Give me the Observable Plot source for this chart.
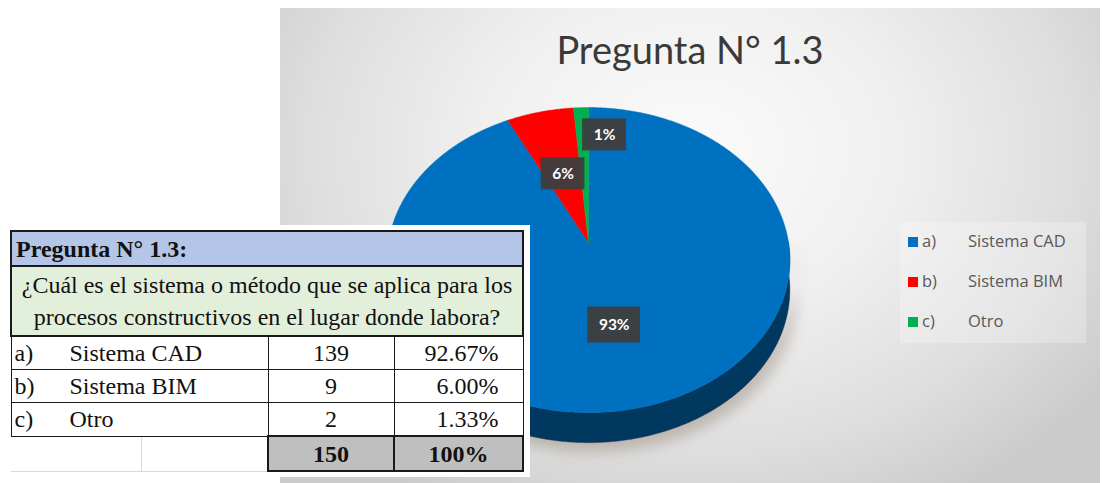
<!DOCTYPE html>
<html>
<head>
<meta charset="utf-8">
<script src="https://cdn.jsdelivr.net/npm/d3@7"></script>
<script src="https://cdn.jsdelivr.net/npm/@observablehq/plot@0.6"></script>
<style>
  html, body { margin: 0; padding: 0; background: #ffffff; }
  #page { position: relative; width: 1103px; height: 483px; overflow: hidden; background: #fff; }
  #panel { position: absolute; left: 280px; top: 8px; width: 820px; height: 475px;
    background: radial-gradient(ellipse 62% 85% at 50% 30%, #fbfbfb 0%, #f0f0f0 40%, #dedede 75%, #cbcbcb 100%); }
  #title { position: absolute; left: 280px; top: 27px; width: 820px; text-align: center;
    font-family: Lato, "Open Sans", sans-serif; font-size: 38px; line-height: 44px; color: #3a3a3a; }
  #chart { position: absolute; left: 280px; top: 8px; }
  #legend { position: absolute; left: 900px; top: 222px; width: 186px; height: 121px;
    background: rgba(255,255,255,0.25); font-family: "Open Sans", sans-serif; font-size: 16.5px; color: #595959; }
  .lg-row { position: absolute; left: 8px; height: 22px; line-height: 22px; white-space: nowrap; }
  .lg-sw { display: inline-block; width: 10px; height: 10px; margin-right: 4px; vertical-align: 0px; }
  .lg-pre { display: inline-block; width: 46px; }
  #backing { position: absolute; left: 4px; top: 225px; width: 526px; height: 252px; background: #fff; }
  #tbl { position: absolute; left: 10px; top: 230px; border-collapse: collapse; table-layout: fixed;
    font-family: "Liberation Serif", "Times New Roman", serif; font-size: 24px; color: #111; }
  #tbl td { padding: 0; white-space: nowrap; overflow: hidden; line-height: 30px; }
  #tbl .hdr td { background: #b4c6e7; border: 2px solid #1a1a1a; font-weight: bold; padding-left: 4px; height: 33px; }
  #tbl .q td { background: #e2efda; border: 2px solid #1a1a1a; text-align: center; line-height: 32px; height: 68px; }
  #tbl .row td { border: 1.5px solid #1a1a1a; height: 32px; background: #fff; }
  #tbl .row td.lab { padding-left: 3px; }
  #tbl .row td.cnt { text-align: center; }
  #tbl .row td.pct { text-align: right; padding-right: 24px; }
  #tbl .tot td.e { border: none; border-bottom: 1px solid #d9d9d9; background: #fff; }
  #tbl .tot td.e1 { border-right: 1px solid #d9d9d9; }
  #tbl .tot td.g { background: #bfbfbf; border: 2px solid #1a1a1a; font-weight: bold; text-align: center; height: 33px; }
  .pre { display: inline-block; width: 55px; }
</style>
</head>
<body>
<div id="page">
  <div id="panel"></div>
  <div id="title"></div>
  <div id="chart"></div>
  <div id="legend"></div>
  <div id="backing"></div>
  <table id="tbl"></table>
</div>
<script>
// ---------- data ----------
const chartTitle = "Pregunta N° 1.3";
const tableTitle = "Pregunta N° 1.3:";
const questionLines = ["¿Cuál es el sistema o método que se aplica para los", "procesos constructivos en el lugar donde labora?"];
const categories = ["a)", "b)", "c)"];
const names = ["Sistema CAD", "Sistema BIM", "Otro"];
const counts = [139, 9, 2];
const percentText = ["92.67%", "6.00%", "1.33%"];
const pieLabels = ["93%", "6%", "1%"];
const totalCount = 150;
const totalText = "100%";
const colors = ["#0070c0", "#ff0000", "#00b050"];

// ---------- style constants ----------
const persp = 0.115;
const thick = 0.2;
const step = Math.PI / 360;

function project(theta, r) {
  const u = r * Math.sin(theta), w = -r * Math.cos(theta);
  const s = 1 / (1 - persp * w);
  return {X: u * s, Y: w * s};
}

const arcs = d3.pie().sort(null).value(d => d)(counts);
const slices = arcs.map((a, i) => ({i, a0: a.startAngle, a1: a.endAngle, color: colors[i], share: counts[i] / d3.sum(counts)}));

function topPolygon(s) {
  const pts = [project(0, 0)];
  for (let t = s.a0; t < s.a1; t += step) pts.push(project(t, 1));
  pts.push(project(s.a1, 1));
  pts.push(project(0, 0));
  return pts;
}
function sidePolygon(s) {
  const b0 = Math.max(s.a0, Math.PI / 2), b1 = Math.min(s.a1, 3 * Math.PI / 2);
  if (b1 <= b0) return null;
  const upper = [];
  for (let t = b0; t < b1; t += step) upper.push(project(t, 1));
  upper.push(project(b1, 1));
  const lower = upper.slice().reverse().map(p => ({X: p.X, Y: p.Y + thick}));
  return upper.concat(lower, [upper[0]]);
}

const canvas = document.createElement("canvas").getContext("2d");
canvas.font = "bold 15.5px Lato";
const labels = slices.map(s => {
  const mid = (s.a0 + s.a1) / 2;
  const small = s.share < 0.03;
  const p = project(mid, small ? 0.78 : (s.share > 0.5 ? 0.53 : 0.5));
  const X = p.X + (small ? 0.11 : 0);
  const wpx = canvas.measureText(pieLabels[s.i]).width + 22;
  const hpx = s.share > 0.5 ? 36 : 32;
  return {text: pieLabels[s.i], X, Y: p.Y, x1: X - wpx / 2 / 200, x2: X + wpx / 2 / 200, y1: p.Y - hpx / 2 / 150.5, y2: p.Y + hpx / 2 / 150.5};
});

const sideMarks = slices.map(s => {
  const poly = sidePolygon(s);
  if (!poly) return null;
  const dark = d3.color(s.color).darker(1.9).formatHex();
  return Plot.line(poly, {x: "X", y: "Y", fill: dark, stroke: dark, strokeWidth: 0.5, curve: "linear"});
}).filter(Boolean);
const topMarks = slices.map(s => Plot.line(topPolygon(s), {x: "X", y: "Y", fill: s.color, stroke: s.color, strokeWidth: 0.5, curve: "linear"}));

const plot = Plot.plot({
  width: 820, height: 475, margin: 0,
  style: {background: "transparent", overflow: "visible"},
  x: {domain: [-1, 1], range: [108, 508], axis: null},
  y: {domain: [-1, 1], range: [83.5, 384.5], axis: null},
  marks: [
    ...sideMarks,
    ...topMarks,
    Plot.rect(labels, {x1: "x1", x2: "x2", y1: "y1", y2: "y2", fill: "#3d3d3d", fillOpacity: 0.95}),
    Plot.text(labels, {x: "X", y: "Y", text: "text", fill: "#ffffff", fontWeight: "bold", fontSize: 15.5, fontFamily: "Lato, 'Open Sans', sans-serif"})
  ]
});
const defs = d3.select(plot).insert("defs", ":first-child");
defs.append("filter").attr("id", "pieShadow").attr("x", "-20%").attr("y", "-30%").attr("width", "150%").attr("height", "180%")
  .append("feDropShadow").attr("dx", 6).attr("dy", 9).attr("stdDeviation", 7).attr("flood-color", "#7a6650").attr("flood-opacity", 0.35);
const lineGroups = plot.querySelectorAll('g[aria-label="line"]');
for (let k = 0; k < sideMarks.length && k < lineGroups.length; k++) lineGroups[k].setAttribute("filter", "url(#pieShadow)");
document.getElementById("chart").appendChild(plot);

document.getElementById("title").textContent = chartTitle;

const legend = d3.select("#legend");
categories.forEach((c, i) => {
  const row = legend.append("div").attr("class", "lg-row").style("top", (8 + i * 40) + "px");
  row.append("span").attr("class", "lg-sw").style("background", colors[i]);
  row.append("span").attr("class", "lg-pre").text(c);
  row.append("span").text(names[i]);
});

const tbl = d3.select("#tbl");
const cg = tbl.append("colgroup");
[130, 127, 126, 129].forEach(w => cg.append("col").style("width", w + "px"));
tbl.append("tr").attr("class", "hdr").append("td").attr("colspan", 4).text(tableTitle);
tbl.append("tr").attr("class", "q").append("td").attr("colspan", 4).html(questionLines.join("<br>"));
categories.forEach((c, i) => {
  const tr = tbl.append("tr").attr("class", "row");
  const lab = tr.append("td").attr("class", "lab").attr("colspan", 2);
  lab.append("span").attr("class", "pre").text(c);
  lab.append("span").text(names[i]);
  tr.append("td").attr("class", "cnt").text(counts[i]);
  tr.append("td").attr("class", "pct").text(percentText[i]);
});
const tot = tbl.append("tr").attr("class", "tot");
tot.append("td").attr("class", "e e1");
tot.append("td").attr("class", "e");
tot.append("td").attr("class", "g").text(totalCount);
tot.append("td").attr("class", "g").text(totalText);
</script>
</body>
</html>
